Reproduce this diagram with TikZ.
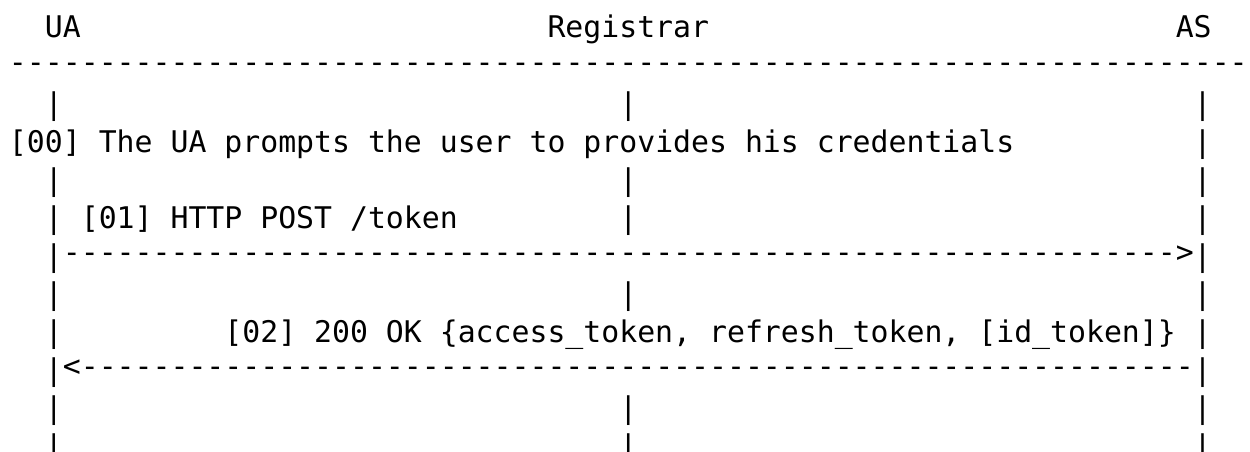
\documentclass[tikz,border=0pt]{standalone}
\usepackage{fontspec}
\setmonofont{DejaVu Sans Mono}
\newcommand\dashrun[1]{\foreach \k in {1,...,#1}{-\kern0pt}}
\tikzset{
  txt/.style={inner sep=0pt, outer sep=0pt, anchor=base west, text=black,
    font=\ttfamily\fontsize{29.82pt}{38pt}\selectfont},
  dashrow/.style={txt, yshift=3.5pt},
}
\begin{document}
\begin{tikzpicture}[x=1pt, y=-1pt]
\def\cw{17.95}
\def\lm{9}
\def\rh{38}
\useasboundingbox (0,0) rectangle (1250,452);
% header
\node[txt] (ua)  at ({\lm+2*\cw},  {1*\rh}) {UA};
\node[txt] (reg) at ({\lm+30*\cw}, {1*\rh}) {Registrar};
\node[txt] (as)  at ({\lm+65*\cw}, {1*\rh}) {AS};
\node[dashrow] (rule) at ({\lm}, {2*\rh}) {\dashrun{69}};
% lifelines
\foreach \r in {3,5,8,11,12} {
  \foreach \c in {2,34,66} {
    \node[txt] (p-\c-\r) at ({\lm+\c*\cw}, {\r*\rh}) {|};
  }
}
% step 00
\node[txt] (s00) at ({\lm}, {4*\rh}) {[00] The UA prompts the user to provides his credentials};
\node[txt] (p-66-4) at ({\lm+66*\cw}, {4*\rh}) {|};
% step 01
\node[txt] (p-2-6) at ({\lm+2*\cw}, {6*\rh}) {|};
\node[txt] (s01) at ({\lm+4*\cw}, {6*\rh}) {[01] HTTP POST /token};
\node[txt] (p-34-6) at ({\lm+34*\cw}, {6*\rh}) {|};
\node[txt] (p-66-6) at ({\lm+66*\cw}, {6*\rh}) {|};
\node[txt] (p-2-7) at ({\lm+2*\cw}, {7*\rh}) {|};
\node[dashrow] (a01) at ({\lm+3*\cw}, {7*\rh}) {\dashrun{62}>};
\node[txt] (p-66-7) at ({\lm+66*\cw}, {7*\rh}) {|};
% step 02
\node[txt] (p-2-9) at ({\lm+2*\cw}, {9*\rh}) {|};
\node[txt] (s02) at ({\lm+12*\cw}, {9*\rh}) {[02] 200 OK \{access\_token, refresh\_token, [id\_token]\}};
\node[txt] (p-66-9) at ({\lm+66*\cw}, {9*\rh}) {|};
\node[txt] (p-2-10) at ({\lm+2*\cw}, {10*\rh}) {|};
\node[dashrow] (a02) at ({\lm+3*\cw}, {10*\rh}) {<\dashrun{62}};
\node[txt] (p-66-10) at ({\lm+66*\cw}, {10*\rh}) {|};
\end{tikzpicture}
\end{document}
